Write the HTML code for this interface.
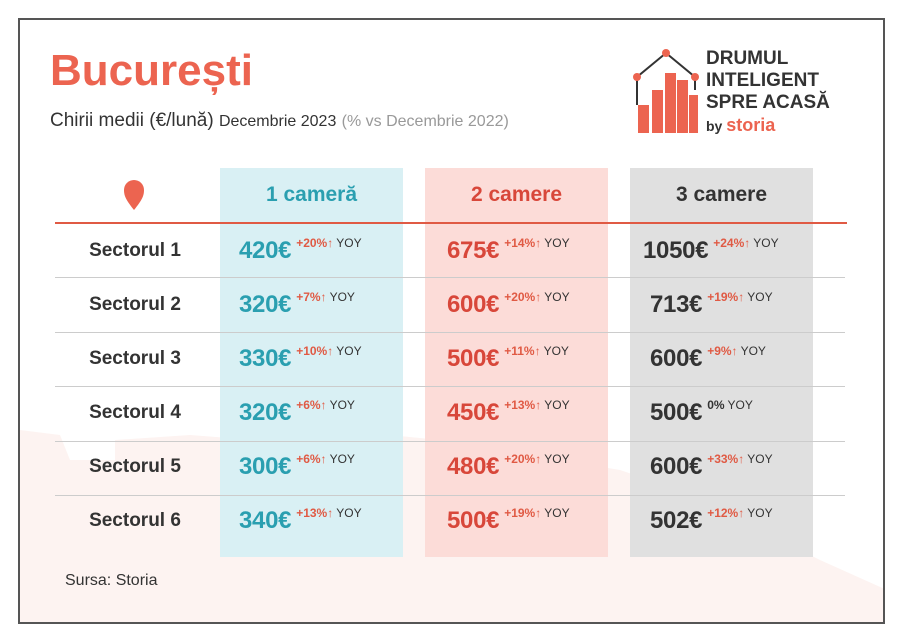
<!DOCTYPE html>
<html><head><meta charset="utf-8"><style>
*{margin:0;padding:0;box-sizing:border-box}
body{width:900px;height:641px;background:#fff;position:relative;overflow:hidden;font-family:"Liberation Sans",sans-serif;color:#333}
.frame{position:absolute;left:18px;top:18px;width:867px;height:606px;border:2px solid #555;background:#fff;overflow:hidden}
.abs{position:absolute}
.col{position:absolute;top:168px;width:183px;height:389px}
.hd{position:absolute;top:183px;width:183px;text-align:center;font-weight:bold;font-size:21px}
.sep{position:absolute;left:55px;width:790px;height:1px;background:#ccc}
.lab{position:absolute;left:55px;width:160px;text-align:center;font-weight:bold;font-size:19px;color:#333}
.v{position:absolute;white-space:nowrap;font-weight:bold;font-size:24px;letter-spacing:-0.3px}
.v sup{font-size:12px;vertical-align:top;position:relative;top:-1px;color:#e05a44;margin-left:5px;letter-spacing:0}
.v sup i{font-style:normal;font-weight:normal;color:#333;margin-left:3px}
</style></head><body>
<div class="frame">
<svg class="abs" style="left:0;top:0" width="867" height="606">
<polygon points="0,450 0,410 40,415 50,440 95,440 95,420 170,415 300,425 320,410 420,420 600,450 660,470 720,500 800,540 867,570 867,606 0,606" fill="#fdf3f1"/>
</svg>
</div>
<div class="col" style="left:220px;background:#d9f0f4"></div>
<div class="col" style="left:425px;background:#fcdcd8"></div>
<div class="col" style="left:630px;background:#e0e0e0"></div>
<div class="abs" style="left:50px;top:46px;font-size:44px;font-weight:bold;color:#ec6450">București</div>
<div class="abs" style="left:50px;top:110px;font-size:19px;color:#333;white-space:nowrap">Chirii medii (€/lună) <span style="font-size:16px">Decembrie 2023</span> <span style="font-size:16px;color:#999">(% vs Decembrie 2022)</span></div>
<svg class="abs" style="left:632px;top:45px" width="70" height="90">
<rect x="6" y="60" width="11" height="28" fill="#ec6450"/>
<rect x="20" y="45" width="11" height="43" fill="#ec6450"/>
<rect x="33" y="28" width="11" height="60" fill="#ec6450"/>
<rect x="45" y="35" width="11" height="53" fill="#ec6450"/>
<rect x="57" y="50" width="9" height="38" fill="#ec6450"/>
<polyline points="5,60 5,32 34,8 63,32 63,45" fill="none" stroke="#333" stroke-width="2"/>
<circle cx="5" cy="32" r="4" fill="#ec6450"/><circle cx="34" cy="8" r="4" fill="#ec6450"/><circle cx="63" cy="32" r="4" fill="#ec6450"/>
</svg>
<div class="abs" style="left:706px;top:48px;font-size:19px;font-weight:bold;line-height:22px;color:#333">DRUMUL<br>INTELIGENT<br>SPRE ACASĂ<br><span style="font-size:14px">by </span><span style="font-size:18px;color:#ec6450">storia</span></div>
<svg class="abs" style="left:122px;top:178px" width="24" height="34"><path d="M12 32 C4 22 2 18 2 12 A10 10 0 0 1 22 12 C22 18 20 22 12 32Z" fill="#ec6450"/></svg>
<div class="hd" style="left:220px;color:#2a9fb0">1 cameră</div>
<div class="hd" style="left:425px;color:#d8473a">2 camere</div>
<div class="hd" style="left:630px;color:#333">3 camere</div>
<div class="abs" style="left:55px;top:222px;width:792px;height:2px;background:#e05a44"></div>
<div class="sep" style="top:277px"></div><div class="sep" style="top:332px"></div><div class="sep" style="top:386px"></div><div class="sep" style="top:441px"></div><div class="sep" style="top:495px"></div>

<div class="lab" style="top:240px">Sectorul 1</div>
<div class="lab" style="top:294px">Sectorul 2</div>
<div class="lab" style="top:348px">Sectorul 3</div>
<div class="lab" style="top:402px">Sectorul 4</div>
<div class="lab" style="top:456px">Sectorul 5</div>
<div class="lab" style="top:510px">Sectorul 6</div>

<div class="v" style="left:239px;top:237px;color:#2a9fb0">420€<sup>+20%↑<i>YOY</i></sup></div>
<div class="v" style="left:239px;top:291px;color:#2a9fb0">320€<sup>+7%↑<i>YOY</i></sup></div>
<div class="v" style="left:239px;top:345px;color:#2a9fb0">330€<sup>+10%↑<i>YOY</i></sup></div>
<div class="v" style="left:239px;top:399px;color:#2a9fb0">320€<sup>+6%↑<i>YOY</i></sup></div>
<div class="v" style="left:239px;top:453px;color:#2a9fb0">300€<sup>+6%↑<i>YOY</i></sup></div>
<div class="v" style="left:239px;top:507px;color:#2a9fb0">340€<sup>+13%↑<i>YOY</i></sup></div>

<div class="v" style="left:447px;top:237px;color:#d8473a">675€<sup>+14%↑<i>YOY</i></sup></div>
<div class="v" style="left:447px;top:291px;color:#d8473a">600€<sup>+20%↑<i>YOY</i></sup></div>
<div class="v" style="left:447px;top:345px;color:#d8473a">500€<sup>+11%↑<i>YOY</i></sup></div>
<div class="v" style="left:447px;top:399px;color:#d8473a">450€<sup>+13%↑<i>YOY</i></sup></div>
<div class="v" style="left:447px;top:453px;color:#d8473a">480€<sup>+20%↑<i>YOY</i></sup></div>
<div class="v" style="left:447px;top:507px;color:#d8473a">500€<sup>+19%↑<i>YOY</i></sup></div>

<div class="v" style="left:643px;top:237px;color:#333">1050€<sup>+24%↑<i>YOY</i></sup></div>
<div class="v" style="left:650px;top:291px;color:#333">713€<sup>+19%↑<i>YOY</i></sup></div>
<div class="v" style="left:650px;top:345px;color:#333">600€<sup>+9%↑<i>YOY</i></sup></div>
<div class="v" style="left:650px;top:399px;color:#333">500€<sup style="color:#333">0%<i>YOY</i></sup></div>
<div class="v" style="left:650px;top:453px;color:#333">600€<sup>+33%↑<i>YOY</i></sup></div>
<div class="v" style="left:650px;top:507px;color:#333">502€<sup>+12%↑<i>YOY</i></sup></div>

<div class="abs" style="left:65px;top:572px;font-size:16px;color:#333">Sursa: Storia</div>
</body></html>
